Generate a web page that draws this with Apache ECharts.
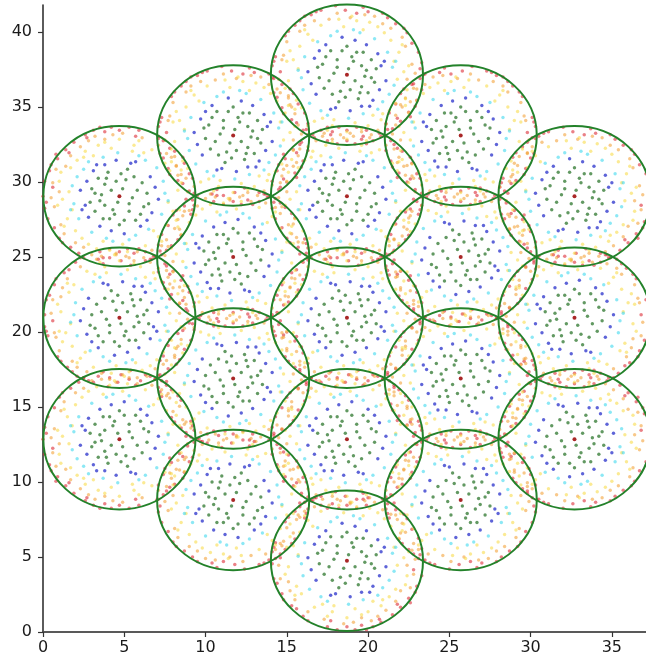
<!DOCTYPE html>
<html>
<head>
<meta charset="utf-8">
<script src="https://cdn.jsdelivr.net/npm/echarts@6/dist/echarts.min.js"></script>
<style>html,body{margin:0;padding:0;background:#fff}#c{width:646px;height:666px}</style>
</head>
<body>
<div id="c"></div>
<script>
// Cell centres (x, y) and radius
const cellX = [18.7, 18.7, 18.7, 18.7, 18.7, 11.7, 11.7, 11.7, 11.7, 25.7, 25.7, 25.7, 25.7, 4.7, 4.7, 4.7, 32.7, 32.7, 32.7];
const cellY = [4.75, 12.85, 20.95, 29.05, 37.15, 8.8, 16.9, 25.0, 33.1, 8.8, 16.9, 25.0, 33.1, 12.85, 20.95, 29.05, 12.85, 20.95, 29.05];
const cellR = 4.68;
// mirror flags so the hand-read pattern is not identical in each cell
const flipX = [1, -1, 1, -1, 1, -1, 1, -1, 1, 1, -1, 1, -1, -1, 1, -1, 1, -1, 1];
const flipY = [1, 1, -1, -1, 1, -1, -1, 1, 1, -1, 1, -1, 1, 1, -1, -1, -1, 1, 1];

const xTicks = [0, 5, 10, 15, 20, 25, 30, 35];
const yTicks = [0, 5, 10, 15, 20, 25, 30, 35, 40];

// Dot offsets from each cell centre, by ring colour (estimated)
const greenPts = [[0.4,0.9],[-0.6,0.5],[1.2,0.3],[-1.1,-0.4],[0.2,-1.0],[0.9,-0.8],[-0.3,1.6],[1.5,1.0],[-1.5,0.7],[0.6,1.5],[-0.9,-1.3],[1.7,-0.5],[-1.7,-0.2],[0.1,0.4],[-0.2,-0.5],[0.7,-1.6],[-0.5,-1.8],[1.3,-1.2],[-1.3,1.2],[0.9,0.6],[-0.8,0.1],[0.3,1.2],[-0.4,-1.1],[1.8,0.4],[-1.8,0.5],[0.0,1.9],[1.0,1.5],[-1.0,1.6],[0.5,-0.4],[-0.1,-1.5],[1.5,-0.2],[-1.4,-0.9],[0.8,-1.2],[-0.6,1.0],[1.1,-0.1]];
const bluePts = [[2.1,0.6],[-2.0,1.1],[0.5,2.3],[-0.7,-2.2],[1.6,-1.7],[-1.9,-1.3],[2.4,-0.4],[-2.4,0.2],[1.2,2.0],[-1.3,2.0],[0.2,-2.4],[1.9,1.4],[-2.2,-0.6],[0.9,-2.1],[-1.0,-2.3],[2.3,0.9],[-0.3,2.5],[1.4,-2.1],[-1.7,1.6],[2.0,-1.0]];
const cyanPts = [[2.8,0.5],[-2.6,1.2],[0.8,2.8],[-1.2,-2.7],[2.2,-1.8],[-2.7,-1.0],[1.7,2.4],[-1.8,2.2],[0.1,-2.9],[2.9,-0.7],[-3.0,0.3],[1.0,-2.6],[-0.6,2.9],[2.5,1.5],[-2.3,-1.9],[1.9,-2.3],[-1.0,2.6],[-2.8,-0.2],[0.4,3.0],[2.6,-1.3],[-1.6,-2.4],[3.0,0.9]];
const yellowPts = [[3.5,0.2],[-3.3,1.0],[0.6,3.6],[-0.9,-3.4],[2.6,-2.4],[-2.8,-2.2],[2.3,2.8],[-2.4,2.7],[3.2,1.5],[-3.6,-0.4],[1.3,-3.4],[-1.6,3.3],[3.7,-1.0],[-3.1,-1.7],[0.0,-3.8],[1.9,3.2],[-0.2,3.2],[3.0,-1.9],[-3.5,1.6],[2.9,0.9],[-2.0,-3.1],[1.0,3.0],[-3.0,0.4],[0.5,-3.2],[3.4,2.0],[-1.2,-3.7],[2.1,-3.0],[-2.6,3.0],[3.8,0.6],[-3.8,-0.9],[1.6,-2.7],[-2.1,2.3],[2.7,2.3],[-3.2,-2.3],[0.9,-3.6],[-0.5,3.7],[3.1,-0.3],[-2.9,1.9],[2.2,-2.6],[-1.5,-2.9],[1.4,3.5],[-3.7,0.9],[3.6,-1.6],[-0.8,-3.0],[0.3,3.9]];
const orangePts = [[4.0,0.7],[-3.9,1.3],[1.1,4.0],[-1.4,-3.9],[3.0,-2.7],[-3.2,-2.6],[2.7,3.1],[-2.9,2.9],[4.1,-0.9],[-4.2,-0.3],[0.4,-4.1],[-0.6,4.1],[3.6,1.9],[-3.5,-2.0],[1.9,-3.7],[-2.0,3.6],[3.9,-1.8],[-4.0,1.0],[0.9,-3.8],[2.2,3.4],[-1.1,3.7],[3.3,-2.0],[-3.7,2.2],[1.5,-4.0],[-2.4,-3.4],[4.2,0.1],[-4.1,-1.2],[2.4,-3.3],[-0.2,-4.2],[0.2,3.8],[3.4,2.5],[-2.6,3.3],[3.7,-0.3],[-3.6,-1.4],[1.7,3.9]];
const redPts = [[4.5,0.4],[-4.4,1.2],[1.0,4.5],[-1.2,-4.4],[3.3,-3.1],[-3.4,-3.0],[3.0,3.4],[-3.2,3.3],[4.6,-1.0],[-4.6,-0.2],[0.5,-4.6],[-0.7,4.6],[4.0,2.1],[-4.0,-2.2],[2.1,-4.1],[-2.2,4.0],[4.3,-1.7],[-4.5,0.9],[1.6,-4.4],[2.5,3.8],[-1.6,4.3],[3.8,-2.5],[-3.8,2.6],[0.0,-4.4],[-2.7,-3.7],[4.7,0.0],[-4.3,-1.5],[2.8,-3.6],[-0.1,4.3],[3.7,2.8],[-2.9,3.6],[4.1,-0.6],[-4.1,0.2],[1.3,4.2],[-1.0,-4.0],[3.1,-2.9],[-3.1,-3.2],[2.2,4.1],[-2.4,-4.0],[4.4,1.5],[-4.5,-1.2],[0.9,-4.3],[-0.6,-4.6],[4.2,-2.1],[-3.6,2.9],[2.0,-3.9],[-1.9,4.2],[3.5,3.1],[-3.9,-2.6],[4.6,0.8],[-4.6,0.6],[0.6,4.1],[1.2,-4.6],[-2.6,3.9],[3.9,-2.8]];
const centrePts = [[0,0]];

function place(offsets) {
  const out = [];
  for (let i = 0; i < cellX.length; i++) {
    for (const o of offsets) out.push([cellX[i] + flipX[i] * o[0], cellY[i] + flipY[i] * o[1]]);
  }
  return out;
}
const circleData = cellX.map((x, i) => [x, cellY[i], cellR]);

function dots(name, offsets, color, size, opacity) {
  return { name, type: 'scatter', data: place(offsets), symbolSize: size, silent: true,
    itemStyle: { color, opacity }, z: 2 };
}

const axisText = { color: '#1a1a1a', fontSize: 16, fontFamily: 'DejaVu Sans' };
const chart = echarts.init(document.getElementById('c'), null, { renderer: 'canvas' });
chart.setOption({
  animation: false,
  backgroundColor: '#fff',
  grid: { left: 43, right: 0, top: 5, bottom: 34, containLabel: false },
  xAxis: [{
    type: 'value', min: 0, max: 37.1, interval: 5,
    axisLine: { show: true, onZero: false, lineStyle: { color: '#333', width: 1.6 } },
    axisTick: { show: true, length: 5, lineStyle: { color: '#333', width: 1.2 } },
    axisLabel: Object.assign({ margin: 8, showMaxLabel: false,
      formatter: v => xTicks.includes(v) ? String(v) : '' }, axisText),
    splitLine: { show: false }
  }, {
    type: 'value', position: 'top', min: 0, max: 37.1,
    axisLine: { show: true, lineStyle: { color: '#555', width: 1.6 } },
    axisTick: { show: false }, axisLabel: { show: false }, splitLine: { show: false }
  }],
  yAxis: {
    type: 'value', min: 0, max: 41.8, interval: 5,
    axisLine: { show: true, onZero: false, lineStyle: { color: '#333', width: 1.6 } },
    axisTick: { show: true, length: 5, lineStyle: { color: '#333', width: 1.2 } },
    axisLabel: Object.assign({ margin: 11, showMaxLabel: false,
      formatter: v => yTicks.includes(v) ? String(v) : '' }, axisText),
    splitLine: { show: false }
  },
  series: [
    dots('red', redPts, '#dc2c36', 3.5, 0.6),
    dots('orange', orangePts, '#f29a2a', 3.4, 0.55),
    dots('yellow', yellowPts, '#f8d83c', 3.4, 0.55),
    dots('cyan', cyanPts, '#3fd8ee', 3.4, 0.6),
    dots('blue', bluePts, '#1a22c8', 3.4, 0.7),
    dots('green', greenPts, '#2d772d', 3.4, 0.75),
    dots('centre', centrePts, '#a01010', 4, 0.9),
    {
      type: 'custom', data: circleData, silent: true, z: 5, clip: false,
      renderItem: function (params, api) {
        const c = api.coord([api.value(0), api.value(1)]);
        const s = api.size([api.value(2), api.value(2)]);
        return { type: 'ellipse', shape: { cx: c[0], cy: c[1], rx: s[0], ry: s[1] },
          style: { fill: null, stroke: '#23822a', lineWidth: 2 } };
      }
    }
  ]
});
</script>
</body>
</html>
